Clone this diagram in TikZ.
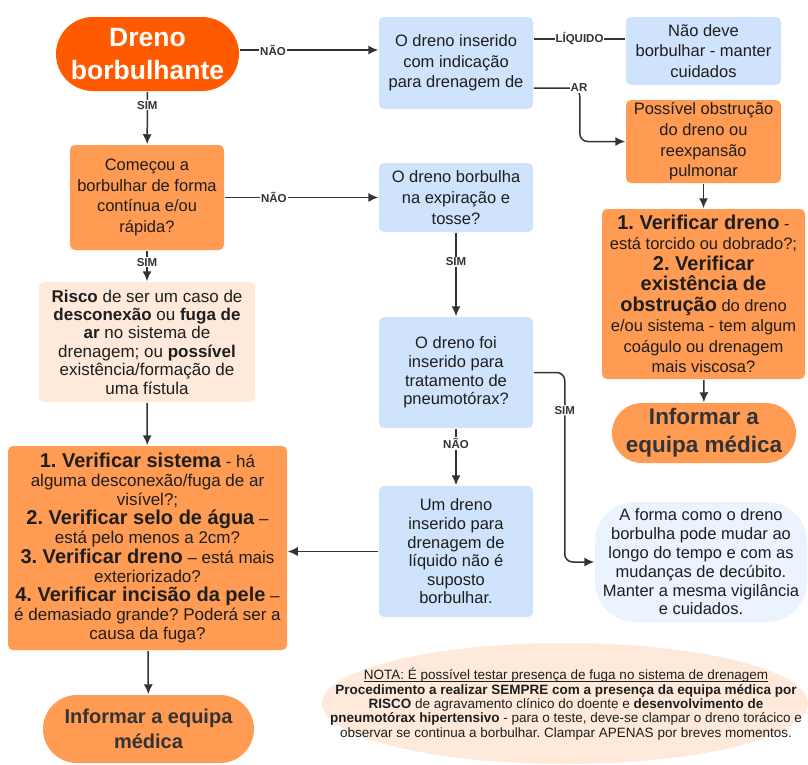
\documentclass[tikz,border=0pt]{standalone}
\usepackage{fontspec}
\setmainfont{Liberation Sans}
\frenchspacing
\usetikzlibrary{arrows.meta,shapes.misc}
\definecolor{startorange}{HTML}{FF5A00}
\definecolor{boxorange}{HTML}{FF9B52}
\definecolor{boxblue}{HTML}{CFE3FD}
\definecolor{paleblue}{HTML}{EAF3FE}
\definecolor{peach}{HTML}{FFE9DB}
\definecolor{linegray}{HTML}{333333}
\definecolor{textgray}{HTML}{1E1E1E}
\newcommand{\hd}[1]{{\fontsize{20}{22}\selectfont\bfseries #1}}
\newsavebox{\ulbox}
\newcommand{\ulined}[1]{\sbox{\ulbox}{#1}\rlap{\rule[-2.2pt]{\wd\ulbox}{0.7pt}}\usebox{\ulbox}}
\begin{document}
\begin{tikzpicture}
	[x=1pt,y=-1pt,
	box/.style={rectangle,rounded corners=5pt,align=center,inner sep=1pt,text=textgray,
		font=\fontsize{16.5}{20.7}\selectfont},
	bluebox/.style={box,fill=boxblue},
	orangebox/.style={box,fill=boxorange},
	pill/.style={rounded rectangle,align=center,inner sep=1pt},
	lbl/.style={fill=white,inner sep=1pt,text=linegray,font=\fontsize{11.5}{12}\selectfont\bfseries},
	>={Latex[length=10pt,width=9pt]},line width=1.5pt,draw=linegray]
	\useasboundingbox (0,0) rectangle (808,764);
	% left column
	\node[pill,fill=startorange,text=white,minimum width=185pt,minimum height=74pt,
		font=\fontsize{26.5}{33}\selectfont\bfseries,name=start]at(147.5,54){Dreno\\borbulhante};
	\node[orangebox,minimum width=154pt,minimum height=105pt,name=comecou]at(147,197.5)
		{Começou a\\borbulhar de forma\\contínua e/ou\\rápida?};
	\node[box,fill=peach,minimum width=216pt,minimum height=120pt,
		font=\fontsize{17}{18.4}\selectfont,name=risco]at(147,342)
		{\textbf{Risco} de ser um caso de\\\textbf{desconexão} ou \textbf{fuga de}\\\textbf{ar} no sistema de\\drenagem; ou \textbf{possível}\\existência/formação de\\uma fístula};
	\node[orangebox,minimum width=279pt,minimum height=204pt,
		font=\fontsize{17}{19.2}\selectfont,name=verif1]at(147.5,548)
		{\hd{1. Verificar sistema} - há\\alguma desconexão/fuga de ar\\visível?;\\\hd{2. Verificar selo de água} –\\está pelo menos a 2cm?\\\hd{3. Verificar dreno} – está mais\\exteriorizado?\\\hd{4. Verificar incisão da pele} –\\é demasiado grande? Poderá ser a\\causa da fuga?};
	\node[pill,fill=boxorange,text=linegray,minimum width=213pt,minimum height=68pt,
		font=\fontsize{20}{25}\selectfont\bfseries,name=inf1]at(148.5,729){Informar a equipa\\médica};
	% middle column
	\node[bluebox,minimum width=154pt,minimum height=92pt,name=indic]at(456,63)
		{O dreno inserido\\com indicação\\para drenagem de};
	\node[bluebox,minimum width=154pt,minimum height=69pt,name=expir]at(456,197.5)
		{O dreno borbulha\\na expiração e\\tosse?};
	\node[bluebox,minimum width=154pt,minimum height=111pt,
		font=\fontsize{16.5}{18.6}\selectfont,name=pneumo]at(456,372.5)
		{O dreno foi\\inserido para\\tratamento de\\pneumotórax?};
	\node[bluebox,minimum width=154pt,minimum height=131pt,
		font=\fontsize{16.5}{18.6}\selectfont,name=liquido]at(456,551.5)
		{Um dreno\\inserido para\\drenagem de\\líquido não é\\suposto\\borbulhar.};
	% right column
	\node[bluebox,minimum width=155pt,minimum height=68pt,name=naodeve]at(703.5,51)
		{Não deve\\borbulhar - manter\\cuidados};
	\node[orangebox,minimum width=155pt,minimum height=83pt,name=obstr]at(703.5,141.5)
		{Possível obstrução\\do dreno ou\\reexpansão\\pulmonar};
	\node[orangebox,minimum width=203pt,minimum height=170pt,
		font=\fontsize{16.5}{20.5}\selectfont,name=verif2]at(703.5,294)
		{\hd{1. Verificar dreno} -\\está torcido ou dobrado?;\\\hd{2. Verificar}\\\hd{existência de}\\\hd{obstrução} do dreno\\e/ou sistema - tem algum\\coágulo ou drenagem\\mais viscosa?};
	\node[pill,fill=boxorange,text=linegray,minimum width=186pt,minimum height=60pt,
		font=\fontsize{22.5}{28}\selectfont\bfseries,name=inf2]at(704,433){Informar a\\equipa médica};
	\node[box,fill=paleblue,rounded corners=40pt,minimum width=212pt,minimum height=120pt,
		font=\fontsize{16.5}{18.8}\selectfont,name=forma]at(701,562)
		{A forma como o dreno\\borbulha pode mudar ao\\longo do tempo e com as\\mudanças de decúbito.\\Manter a mesma vigilância\\e cuidados.};
	% note
	\fill[peach] (565,703.5) ellipse [x radius=243, y radius=60.5];
	\node[align=center,text=textgray,font=\fontsize{13.5}{14.4}\selectfont,name=nota]at(566,704)
		{\ulined{NOTA: É possível testar presença de fuga no sistema de drenagem}\\\textbf{Procedimento a realizar SEMPRE com a presença da equipa médica por}\\\textbf{RISCO} de agravamento clínico do doente e \textbf{desenvolvimento de}\\\textbf{pneumotórax hipertensivo} - para o teste, deve-se clampar o dreno torácico e\\observar se continua a borbulhar. Clampar APENAS por breves momentos.};
	% connectors
	\draw[->] ([yshift=4pt]start.east) -- ([yshift=4pt]start.east -| indic.west) node[lbl,pos=0.24]{NÃO};
	\draw[->] (start) -- (comecou) node[lbl,pos=0.26]{SIM};
	\draw[->] (comecou) -- (expir) node[lbl,pos=0.32]{NÃO};
	\draw[->] (comecou) -- (risco) node[lbl,pos=0.38]{SIM};
	\draw[->] (risco) -- (verif1);
	\draw[->] (verif1) -- (inf1);
	\draw ([yshift=24pt]indic.east) -- ([yshift=24pt]indic.east -| naodeve.west) node[lbl,midway]{LÍQUIDO};
	\draw[->,rounded corners=8pt] ([yshift=-25pt]indic.east) -- ++(46,0) |- (obstr.west);
	\node[lbl,name=arlbl]at(579,88){AR};
	\draw[->] (expir) -- (pneumo) node[lbl,pos=0.35]{SIM};
	\draw[->] (pneumo) -- (liquido) node[lbl,pos=0.26]{NÃO};
	\draw[->] (liquido.west) -- (liquido.west -| verif1.east);
	\draw[->,rounded corners=8pt] (pneumo.east) -- ++(31,0) |- (forma.west) node[lbl,pos=0.1]{SIM};
	\draw[->] (obstr) -- (verif2);
	\draw[->] (verif2) -- (inf2);
\end{tikzpicture}
\end{document}
